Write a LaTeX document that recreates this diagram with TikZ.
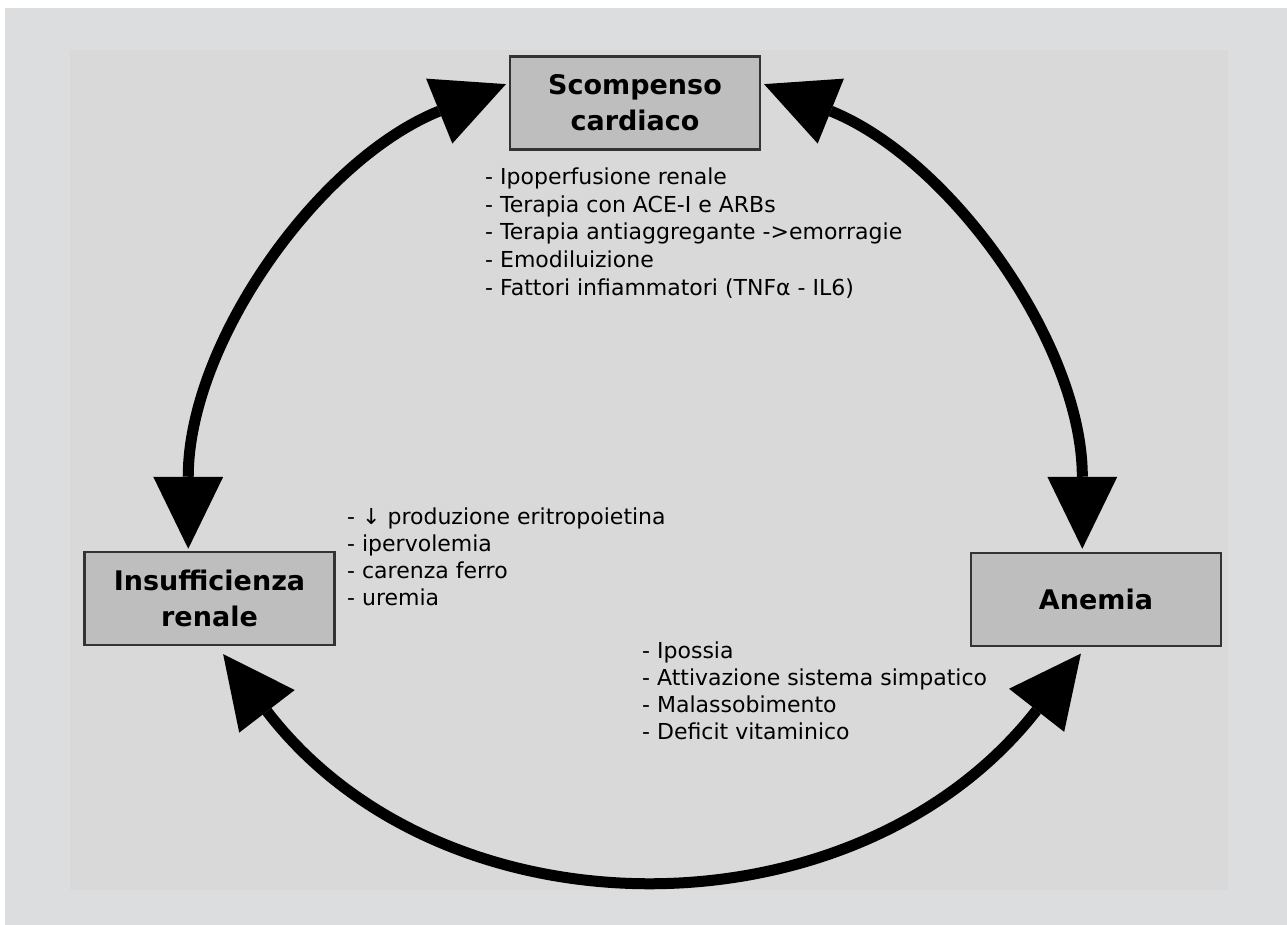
\documentclass[tikz,border=0pt]{standalone}
\usepackage{fontspec}
\setmainfont{DejaVu Sans}
\usetikzlibrary{arrows.meta}
\definecolor{outerbg}{HTML}{DCDDDF}
\definecolor{innerbg}{HTML}{D9D9D9}
\definecolor{boxfill}{HTML}{BEBEBE}
\definecolor{boxline}{HTML}{333333}
\begin{document}
\begin{tikzpicture}[x=1pt,y=-1pt,
  box/.style={draw=boxline, line width=2.5pt, fill=boxfill, minimum width=250pt, minimum height=93pt, inner sep=0pt, align=center, font=\fontsize{27}{36}\selectfont\bfseries},
  lst/.style={anchor=base west, inner sep=0pt, font=\fontsize{22}{27}\selectfont},
  dbl/.style={line width=11pt, {Triangle[length=72pt,width=70pt,line width=0pt]}-{Triangle[length=72pt,width=70pt,line width=0pt]}}]
\useasboundingbox (0,0) rectangle (1287,925);
\fill[white] (0,0) rectangle (1287,925);
\fill[outerbg] (5,8) rectangle (1287,925);
\fill[innerbg] (70,50) rectangle (1228,890);

\node[box] (sc) at (635,103) {Scompenso\\cardiaco};
\node[box] (ir) at (209.5,598.5) {Insufficienza\\renale};
\node[box] (an) at (1096,599.5) {Anemia};

\foreach \t [count=\i] in {{- Ipoperfusione renale},{- Terapia con ACE-I e ARBs},{- Terapia antiaggregante ->emorragie},{- Emodiluizione},{- Fattori infiammatori (TNFα - IL6)}}
  \node[lst] (tl\i) at (485,185+27.5*\i-27.5) {\t};

\foreach \t [count=\i] in {{- ↓ produzione eritropoietina},{- ipervolemia},{- carenza ferro},{- uremia}}
  \node[lst] (ll\i) at (347,524+27*\i-27) {\t};

\foreach \t [count=\i] in {{- Ipossia},{- Attivazione sistema simpatico},{- Malassobimento},{- Deficit vitaminico}}
  \node[lst] (bl\i) at (642,658+27*\i-27) {\t};

\draw[dbl, shorten <=3pt, shorten >=2pt] (sc.171) to[out=202, in=90, looseness=0.93] (ir.114);
\draw[dbl, shorten <=3pt, shorten >=3pt] (sc.9) to[out=-22, in=90, looseness=0.93] (an.106);
\draw[dbl, shorten <=10pt, shorten >=8pt] (ir.-81) to[out=-52.5, in=232, looseness=1.1] (an.-102);
\end{tikzpicture}
\end{document}
